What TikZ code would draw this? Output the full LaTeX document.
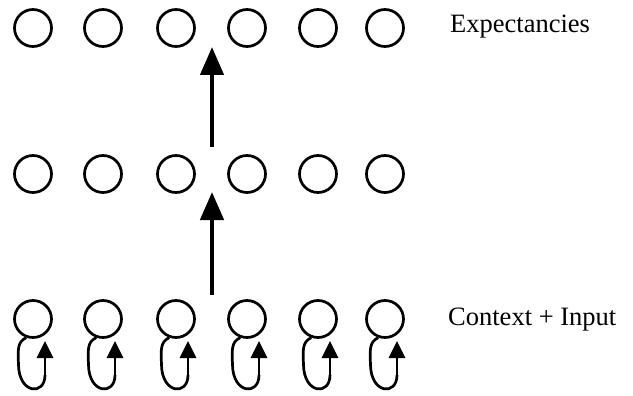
\documentclass[tikz,border=0pt]{standalone}
\usepackage{fontspec}
\setmainfont{Liberation Serif}
\usetikzlibrary{arrows.meta}
\tikzset{
  unit/.style={circle, draw, line width=2.7pt, minimum size=37pt, inner sep=0pt},
  bigarrow/.style={line width=4.5pt, -{Triangle[width=23pt, length=28pt]}},
  looparrow/.style={line width=2.7pt, -{Triangle[width=16pt, length=17pt]}},
  label/.style={anchor=base west, inner sep=0pt, font=\fontsize{26.5}{30}\selectfont},
}
\begin{document}
\begin{tikzpicture}[x=1pt, y=-1pt]
\useasboundingbox (0,0) rectangle (633,396);
\foreach \i/\x in {1/33,2/103,3/176,4/247,5/318,6/385} {
  \node[unit] (t\i) at (\x,28) {};
  \node[unit] (m\i) at (\x,174) {};
  \node[unit] (b\i) at (\x,319) {};
  \coordinate (lb\i) at (\x+12,341);
  \draw[line width=2.7pt] (b\i.250) .. controls (\x-16,342) and (\x-15,350) .. (\x-14.5,365)
     .. controls (\x-14,394) and (\x+12,396) .. (\x+12,375) coordinate (lt\i);
  \draw[looparrow] (lt\i) -- (lb\i);
}
\coordinate (a1s) at (212,295);
\coordinate (a1e) at (212,192);
\coordinate (a2s) at (212,147);
\coordinate (a2e) at (212,47);
\draw[bigarrow] (a1s) -- (a1e);
\draw[bigarrow] (a2s) -- (a2e);
\node[label] (exp) at (450,33) {Expectancies};
\node[label] (ctx) at (448,325) {Context + Input};
\end{tikzpicture}
\end{document}
